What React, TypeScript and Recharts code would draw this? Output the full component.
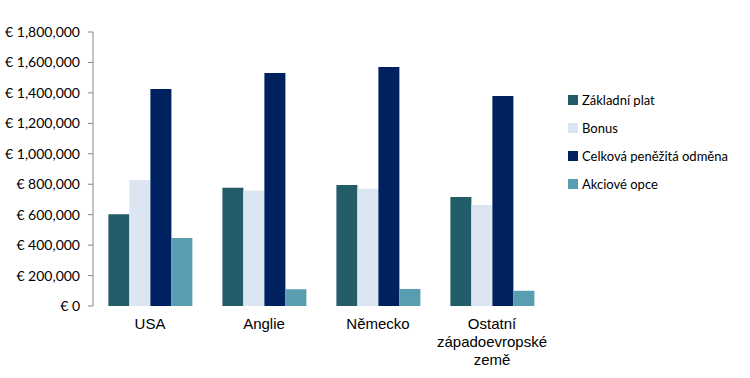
import React from 'react';
import { BarChart, Bar, XAxis, YAxis } from 'recharts';

const regions = ['USA', 'Anglie', 'Německo', 'Ostatní západoevropské země'];
const basePay = [602000, 777000, 795000, 716000];
const bonus = [828000, 758000, 771000, 664000];
const totalCash = [1426000, 1531000, 1570000, 1380000];
const stockOptions = [447000, 110000, 112000, 100000];
const yTicks = [0, 200000, 400000, 600000, 800000, 1000000, 1200000, 1400000, 1600000, 1800000];

const series = [
  { key: 'base', name: 'Základní plat', values: basePay, color: '#245d6a' },
  { key: 'bonus', name: 'Bonus', values: bonus, color: '#dce6f2' },
  { key: 'total', name: 'Celková peněžitá odměna', values: totalCash, color: '#00215f' },
  { key: 'stock', name: 'Akciové opce', values: stockOptions, color: '#589db0' },
];

const data = regions.map((region, i) => {
  const row: any = { region, idx: i + 0.5 };
  series.forEach(s => { row[s.key] = s.values[i]; });
  return row;
});

const labelLines: Record<string, string[]> = {
  'Ostatní západoevropské země': ['Ostatní', 'západoevropské', 'země'],
};

const RegionTick = (props: any) => {
  const { x, y, payload } = props;
  const lines = labelLines[payload.value] || [payload.value];
  return (
    <text x={x} y={y} textAnchor="middle" fontFamily="'Liberation Sans', Arial, sans-serif" fontSize={15} fill="#000">
      {lines.map((l, i) => (
        <tspan key={i} x={x} dy={i === 0 ? 15 : 18}>{l}</tspan>
      ))}
    </text>
  );
};

const euro = (v: number) => `€ ${v.toLocaleString('en-US')}`;

export default function App() {
  return (
    <div style={{ position: 'absolute', left: 0, top: 0, width: 750, height: 378, background: '#fff' }}>
      <BarChart
        width={750}
        height={378}
        data={data}
        margin={{ top: 32, right: 201, bottom: 12, left: 0 }}
        barCategoryGap="13.5%"
        barGap={0}
      >
        <XAxis
          dataKey="region"
          xAxisId="cat"
          height={60}
          axisLine={false}
          tickLine={false}
          tick={<RegionTick />}
          interval={0}
        />
        <XAxis
          xAxisId="edges"
          dataKey="idx"
          type="number"
          domain={[0, 4]}
          ticks={[0, 1, 2, 3, 4]}
          height={0}
          axisLine={{ stroke: '#868686' }}
          tickLine={{ stroke: '#868686' }}
          tickSize={5}
          tick={false}
        />
        <YAxis
          width={93}
          domain={[0, 1800000]}
          ticks={yTicks}
          interval={0}
          tickFormatter={euro}
          axisLine={{ stroke: '#868686' }}
          tickLine={{ stroke: '#868686' }}
          tickSize={5}
          tickMargin={8}
          tick={{ fontFamily: 'Lato, sans-serif', fontSize: 14, fill: '#000' }}
        />
        {series.map(s => (
          <Bar key={s.key} dataKey={s.key} name={s.name} xAxisId="cat" fill={s.color} isAnimationActive={false} />
        ))}
      </BarChart>
      <div style={{ position: 'absolute', left: 568, top: 86, fontFamily: 'Lato, sans-serif', fontSize: 13, color: '#000' }}>
        {series.map(s => (
          <div key={s.key} style={{ display: 'flex', alignItems: 'center', height: 28 }}>
            <span style={{ width: 10, height: 10, background: s.color, display: 'inline-block', marginRight: 4 }} />
            <span>{s.name}</span>
          </div>
        ))}
      </div>
    </div>
  );
}
